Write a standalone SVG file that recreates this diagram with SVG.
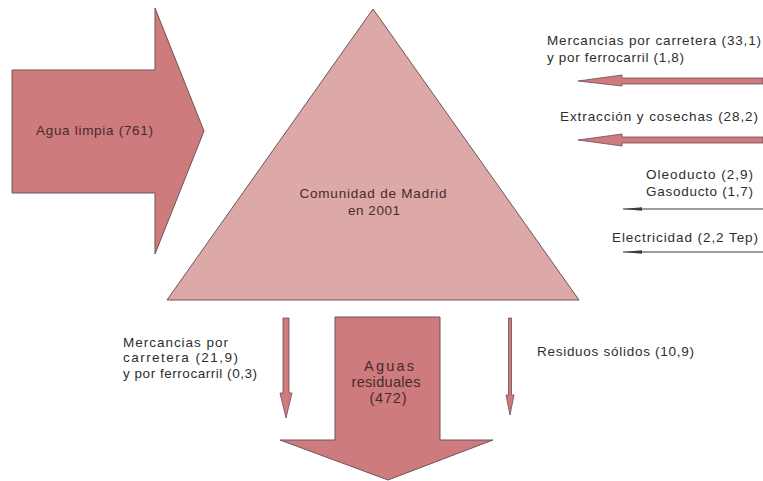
<svg xmlns="http://www.w3.org/2000/svg" width="763" height="481" viewBox="0 0 763 481">
<style>
.big{fill:#cd7b7c;stroke:#6e5556;stroke-width:1}
.tri{fill:#dca8a8;stroke:#6e5556;stroke-width:1}
.sm{fill:#cd7b7c;stroke:#6e4a55;stroke-width:0.8}
.thin{stroke:#3a3a3a;stroke-width:1.2;fill:none}
.th{fill:#3a3a3a}
text{font-family:"Liberation Sans",Arial,sans-serif;font-size:13.5px;fill:#2e2e2e}
.in{fill:#4a2a2c}
.lg{font-size:14.5px}
.m{text-anchor:middle}
</style>
<rect width="763" height="481" fill="#ffffff"/>
<g id="agua-limpia">
<polygon class="big" points="12,70 155,70 155,8 204,131 155,254 155,193 12,193"/>
<text class="in" x="36" y="135" textLength="117" lengthAdjust="spacing">Agua limpia (761)</text>
</g>
<g id="comunidad">
<polygon class="tri" points="373,9 579,300 167,300"/>
<text class="in m" x="373" y="198" textLength="147" lengthAdjust="spacing">Comunidad de Madrid</text>
<text class="in m" x="374" y="215" textLength="52" lengthAdjust="spacing">en 2001</text>
</g>
<g id="aguas-residuales">
<polygon class="big" points="335,317 440,317 440,440 493,440 388,480 280,440 335,440"/>
<text class="in m lg" x="389" y="371" textLength="50" lengthAdjust="spacing">Aguas</text>
<text class="in m lg" x="386" y="387" textLength="69" lengthAdjust="spacing">residuales</text>
<text class="in m lg" x="388" y="403" textLength="37" lengthAdjust="spacing">(472)</text>
</g>
<g id="connectors">
<polygon class="sm" points="763,78 622,78 622,75 578,81 622,86 622,84 763,84"/>
<polygon class="sm" points="763,137 622,137 622,134 578,140 622,146 622,143 763,143"/>
<line class="thin" x1="623" y1="209" x2="763" y2="209"/>
<polygon class="th" points="623,209 642,207.3 642,210.7"/>
<line class="thin" x1="623" y1="252" x2="763" y2="252"/>
<polygon class="th" points="623,252 642,250.3 642,253.7"/>
<polygon class="sm" points="283,318 289,318 289,393 292,393 286,418 280,393 283,393"/>
<polygon class="sm" points="508.5,318 511.5,318 511.5,395 514,395 510,415 506,395 508.5,395"/>
</g>
<g id="labels">
<text x="547" y="45" textLength="214" lengthAdjust="spacing">Mercancias por carretera (33,1)</text>
<text x="547" y="62" textLength="137" lengthAdjust="spacing">y por ferrocarril (1,8)</text>
<text x="560" y="121" textLength="198" lengthAdjust="spacing">Extracción y cosechas (28,2)</text>
<text x="646" y="179" textLength="107" lengthAdjust="spacing">Oleoducto (2,9)</text>
<text x="646" y="196" textLength="107" lengthAdjust="spacing">Gasoducto (1,7)</text>
<text x="612" y="242" textLength="146" lengthAdjust="spacing">Electricidad (2,2 Tep)</text>
<text x="123" y="347" textLength="105" lengthAdjust="spacing">Mercancias por</text>
<text x="123" y="362" textLength="115" lengthAdjust="spacing">carretera (21,9)</text>
<text x="123" y="378" textLength="134" lengthAdjust="spacing">y por ferrocarril (0,3)</text>
<text x="537" y="356" textLength="157" lengthAdjust="spacing">Residuos sólidos (10,9)</text>
</g>
</svg>
